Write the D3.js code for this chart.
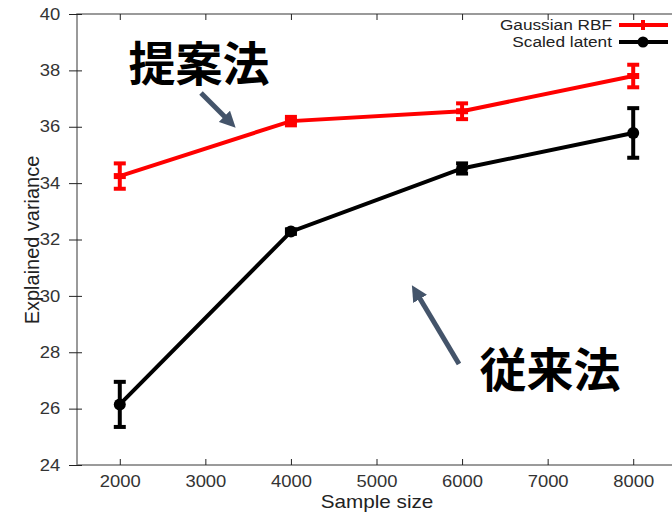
<!DOCTYPE html>
<html>
<head>
<meta charset="utf-8">
<script src="https://cdn.jsdelivr.net/npm/d3@7"></script>
<style>
  body { margin: 0; background: #fff; }
  svg { display: block; font-family: "Liberation Sans", Arial, sans-serif; }
</style>
</head>
<body>
<div id="chart"></div>
<script>
// Data
const sampleSizes = [2000, 4000, 6000, 8000];
const rbfMean = [34.25, 36.2, 36.55, 37.8];
const rbfErr = [0.45, 0.15, 0.28, 0.4];
const latentMean = [26.15, 32.28, 34.52, 35.78];
const latentErr = [0.8, 0.08, 0.18, 0.88];
const xTicks = [2000, 3000, 4000, 5000, 6000, 7000, 8000];
const yTicks = [24, 26, 28, 30, 32, 34, 36, 38, 40];
const seriesNames = ["Gaussian RBF", "Scaled latent"];

const width = 672;
const height = 513;
const margin = { top: 14, right: -4, bottom: 48, left: 77 };
const stretch = "scale(1.15,1)"; // the original text is a bit wide

const svg = d3.select("#chart").append("svg")
  .attr("width", width)
  .attr("height", height);

const x = d3.scaleLinear()
  .domain([1500, 8500])
  .range([margin.left, width - margin.right]);

const y = d3.scaleLinear()
  .domain([24, 40])
  .range([height - margin.bottom, margin.top]);

const axisColor = "#7a7a7a";

// Frame
svg.append("rect")
  .attr("x", x(1500))
  .attr("y", y(40))
  .attr("width", x(8500) - x(1500))
  .attr("height", y(24) - y(40))
  .attr("fill", "none")
  .attr("stroke", axisColor)
  .attr("stroke-width", 1.5);

// Bottom axis, ticks inward
const xAxis = svg.append("g")
  .attr("transform", `translate(0, ${y(24)})`)
  .call(d3.axisBottom(x).tickValues(xTicks).tickFormat(d3.format("d"))
    .tickSizeInner(-6).tickSizeOuter(0).tickPadding(11));
xAxis.select(".domain").remove();
xAxis.selectAll("line").attr("stroke", "#222");
xAxis.selectAll("text")
  .attr("fill", "#333")
  .attr("transform", stretch)
  .style("font-size", "16px");

// Top ticks
svg.append("g")
  .attr("transform", `translate(0, ${y(40)})`)
  .call(d3.axisTop(x).tickValues(xTicks).tickSizeInner(-6).tickSizeOuter(0).tickFormat(""))
  .call(g => g.select(".domain").remove())
  .selectAll("line").attr("stroke", "#222");

// Left axis, ticks crossing the frame
const yAxis = svg.append("g")
  .attr("transform", `translate(${x(1500) + 5}, 0)`)
  .call(d3.axisLeft(y).tickValues(yTicks).tickSizeInner(13).tickSizeOuter(0).tickPadding(6));
yAxis.select(".domain").remove();
yAxis.selectAll("line").attr("stroke", "#222");
yAxis.selectAll("text")
  .attr("fill", "#333")
  .attr("transform", stretch)
  .style("font-size", "16px");

// Axis labels
svg.append("text")
  .attr("transform", `translate(377, 508) ${stretch}`)
  .attr("text-anchor", "middle")
  .attr("fill", "#222")
  .style("font-size", "18px")
  .text("Sample size");

svg.append("text")
  .attr("transform", "translate(39, 240) rotate(-90) scale(1.05,1.1)")
  .attr("text-anchor", "middle")
  .attr("fill", "#222")
  .style("font-size", "19px")
  .text("Explained variance");

// Series
const series = [
  { name: seriesNames[0], color: "#ff0000", mean: rbfMean, err: rbfErr, dot: false },
  { name: seriesNames[1], color: "#000000", mean: latentMean, err: latentErr, dot: true }
];

const line = d3.line()
  .x(d => x(d.x))
  .y(d => y(d.m));

series.forEach(s => {
  const pts = sampleSizes.map((v, i) => ({ x: v, m: s.mean[i], e: s.err[i] }));

  svg.append("path")
    .datum(pts)
    .attr("fill", "none")
    .attr("stroke", s.color)
    .attr("stroke-width", 4)
    .attr("d", line);

  pts.forEach(p => {
    svg.append("line")
      .attr("x1", x(p.x)).attr("x2", x(p.x))
      .attr("y1", y(p.m - p.e)).attr("y2", y(p.m + p.e))
      .attr("stroke", s.color)
      .attr("stroke-width", 4);
    [p.m - p.e, p.m + p.e].forEach(v => {
      svg.append("line")
        .attr("x1", x(p.x) - 6).attr("x2", x(p.x) + 6)
        .attr("y1", y(v)).attr("y2", y(v))
        .attr("stroke", s.color)
        .attr("stroke-width", 4);
    });
    if (s.dot) {
      svg.append("circle")
        .attr("cx", x(p.x))
        .attr("cy", y(p.m))
        .attr("r", 6)
        .attr("fill", s.color);
    } else {
      svg.append("rect")
        .attr("x", x(p.x) - 6)
        .attr("y", y(p.m) - 3)
        .attr("width", 12)
        .attr("height", 6)
        .attr("fill", s.color);
    }
  });
});

// Legend
const legend = svg.append("g");
series.forEach((s, i) => {
  const ly = 25 + i * 17;
  legend.append("text")
    .attr("transform", `translate(612, ${ly + 5}) ${stretch}`)
    .attr("text-anchor", "end")
    .attr("fill", "#222")
    .style("font-size", "15px")
    .text(s.name);
  legend.append("line")
    .attr("x1", 619).attr("x2", 668)
    .attr("y1", ly).attr("y2", ly)
    .attr("stroke", s.color)
    .attr("stroke-width", 4);
  if (s.dot) {
    legend.append("circle")
      .attr("cx", 643).attr("cy", ly).attr("r", 5.5)
      .attr("fill", s.color);
  } else {
    legend.append("line")
      .attr("x1", 643).attr("x2", 643)
      .attr("y1", ly - 5).attr("y2", ly + 5)
      .attr("stroke", s.color)
      .attr("stroke-width", 4);
  }
});

// Annotations
const arrowColor = "#44546a";
svg.append("defs").append("marker")
  .attr("id", "head")
  .attr("viewBox", "0 0 10 10")
  .attr("refX", 5).attr("refY", 5)
  .attr("markerWidth", 3.2).attr("markerHeight", 3.2)
  .attr("orient", "auto")
  .append("path")
  .attr("d", "M0,0 L10,5 L0,10 z")
  .attr("fill", arrowColor);

svg.append("line")
  .attr("x1", 201).attr("y1", 93)
  .attr("x2", 230).attr("y2", 122)
  .attr("stroke", arrowColor)
  .attr("stroke-width", 5)
  .attr("marker-end", "url(#head)");

svg.append("line")
  .attr("x1", 459).attr("y1", 364)
  .attr("x2", 416).attr("y2", 292)
  .attr("stroke", arrowColor)
  .attr("stroke-width", 5)
  .attr("marker-end", "url(#head)");

svg.append("text")
  .attr("x", 199)
  .attr("y", 81)
  .attr("text-anchor", "middle")
  .attr("fill", "#000")
  .style("font-family", "'Noto Sans CJK JP', sans-serif")
  .style("font-weight", "bold")
  .style("font-size", "47px")
  .text("提案法");

svg.append("text")
  .attr("x", 550)
  .attr("y", 387)
  .attr("text-anchor", "middle")
  .attr("fill", "#000")
  .style("font-family", "'Noto Sans CJK JP', sans-serif")
  .style("font-weight", "bold")
  .style("font-size", "47px")
  .text("従来法");
</script>
</body>
</html>
